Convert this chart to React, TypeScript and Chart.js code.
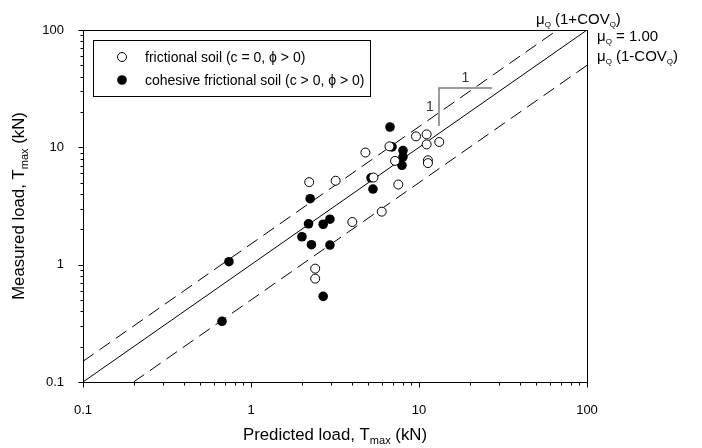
import React, { useEffect, useRef } from "react";
import { Chart, registerables } from "chart.js";

Chart.register(...registerables);

// ---- data ----
const frictionalX = [11.1, 9.6, 11.1, 13.2, 6.67, 4.8, 7.2, 11.3, 11.3, 5.36, 7.53, 2.22, 3.19, 6.0, 4.01, 2.41, 2.41];
const frictionalY = [12.9, 12.4, 10.6, 11.1, 10.2, 9.03, 7.67, 7.75, 7.34, 5.53, 4.82, 5.05, 5.19, 2.83, 2.31, 0.925, 0.76];
const cohesiveX = [6.72, 8.03, 8.03, 7.92, 6.91, 5.18, 5.32, 2.25, 2.2, 2.69, 2.95, 2.01, 2.29, 2.95, 0.739, 0.672, 2.69];
const cohesiveY = [14.9, 9.39, 8.3, 7.03, 10.1, 5.5, 4.41, 3.65, 2.23, 2.21, 2.44, 1.73, 1.48, 1.47, 1.06, 0.329, 0.537];

const bias = 1.0; // mu_Q
const cov = 0.5; // COV_Q
const axisMin = 0.1;
const axisMax = 100;

const slopeX = [27.2, 13.15, 13.15];
const slopeY = [32.1, 32.1, 15.2];

const tickValues = [
  0.1, 0.2, 0.3, 0.4, 0.5, 0.6, 0.7, 0.8, 0.9,
  1, 2, 3, 4, 5, 6, 7, 8, 9,
  10, 20, 30, 40, 50, 60, 70, 80, 90, 100,
];

const legendLabels = ["frictional soil (c = 0, \u03d5 > 0)", "cohesive frictional soil (c > 0, \u03d5 > 0)"];

const FAMILY = "Arial, 'Liberation Sans', sans-serif";

type Part = { t: string; sub?: boolean };

function drawRich(ctx: CanvasRenderingContext2D, parts: Part[], x: number, y: number, align: string, size: number, subSize: number, subDrop: number) {
  const widths = parts.map((p) => {
    ctx.font = `${p.sub ? subSize : size}px ${FAMILY}`;
    return ctx.measureText(p.t).width;
  });
  const total = widths.reduce((a, b) => a + b, 0);
  let cx = align === "center" ? x - total / 2 : align === "right" ? x - total : x;
  ctx.textAlign = "left";
  ctx.textBaseline = "alphabetic";
  parts.forEach((p, i) => {
    ctx.font = `${p.sub ? subSize : size}px ${FAMILY}`;
    ctx.fillText(p.t, cx, p.sub ? y + subDrop : y);
    cx += widths[i];
  });
}

const isMajor = (v: number) => {
  const lg = Math.log10(v);
  return Math.abs(lg - Math.round(lg)) < 1e-6;
};

const decorPlugin = {
  id: "decor",
  afterDraw(chart: any) {
    const { ctx, chartArea, scales } = chart;
    const { left, right, top, bottom } = chartArea;
    const xs = scales.x;
    const ys = scales.y;
    ctx.save();
    ctx.strokeStyle = "#000";
    ctx.lineWidth = 1;
    // frame
    ctx.strokeRect(Math.round(left) + 0.5, Math.round(top) + 0.5, Math.round(right - left), Math.round(bottom - top));
    // ticks
    ctx.beginPath();
    tickValues.forEach((v) => {
      const len = isMajor(v) ? 5 : 3;
      const px = Math.round(xs.getPixelForValue(v)) + 0.5;
      ctx.moveTo(px, Math.round(bottom) + 0.5);
      ctx.lineTo(px, Math.round(bottom) + 0.5 + len);
      const py = Math.round(ys.getPixelForValue(v)) + 0.5;
      ctx.moveTo(Math.round(left) + 0.5, py);
      ctx.lineTo(Math.round(left) + 0.5 - len, py);
    });
    ctx.stroke();

    ctx.fillStyle = "#000";
    // x title
    drawRich(ctx, [{ t: "Predicted load, T" }, { t: "max", sub: true }, { t: " (kN)" }], (left + right) / 2, 440, "center", 16.8, 11, 4);
    // y title
    ctx.save();
    ctx.translate(24, (top + bottom) / 2);
    ctx.rotate(-Math.PI / 2);
    drawRich(ctx, [{ t: "Measured load, T" }, { t: "max", sub: true }, { t: " (kN)" }], 0, 0, "center", 16.8, 11, 4);
    ctx.restore();

    // legend
    ctx.fillStyle = "#fff";
    ctx.fillRect(93.5, 40.5, 277, 56);
    ctx.strokeRect(93.5, 40.5, 277, 56);
    ctx.beginPath();
    ctx.arc(122, 57, 4.5, 0, Math.PI * 2);
    ctx.fillStyle = "#fff";
    ctx.fill();
    ctx.stroke();
    ctx.beginPath();
    ctx.arc(122, 80, 4.8, 0, Math.PI * 2);
    ctx.fillStyle = "#000";
    ctx.fill();
    ctx.font = `14px ${FAMILY}`;
    ctx.textAlign = "left";
    ctx.textBaseline = "middle";
    ctx.fillText(legendLabels[0], 145, 58);
    ctx.fillText(legendLabels[1], 145, 81);

    // right labels
    ctx.fillStyle = "#000";
    drawRich(ctx, [{ t: "\u03bc" }, { t: "Q", sub: true }, { t: " (1+COV" }, { t: "Q", sub: true }, { t: ")" }], 536, 24, "left", 15, 8, 3);
    drawRich(ctx, [{ t: "\u03bc" }, { t: "Q", sub: true }, { t: " = 1.00" }], 597, 41, "left", 15, 8, 3);
    drawRich(ctx, [{ t: "\u03bc" }, { t: "Q", sub: true }, { t: " (1-COV" }, { t: "Q", sub: true }, { t: ")" }], 597, 61, "left", 15, 8, 3);

    // slope labels
    ctx.fillStyle = "#333";
    ctx.font = `14px ${FAMILY}`;
    ctx.textAlign = "center";
    ctx.textBaseline = "middle";
    ctx.fillText("1", xs.getPixelForValue((slopeX[0] * slopeX[1]) ** 0.5), ys.getPixelForValue(slopeY[0]) - 10);
    ctx.fillText("1", xs.getPixelForValue(slopeX[1]) - 9, ys.getPixelForValue((slopeY[1] * slopeY[2]) ** 0.5));
    ctx.restore();
  },
};

export default function App() {
  const ref = useRef<HTMLCanvasElement | null>(null);
  useEffect(() => {
    if (!ref.current) return;
    const lineFrom = (factor: number) => {
      const x0 = Math.max(axisMin, axisMin / factor);
      const x1 = Math.min(axisMax, axisMax / factor);
      return [
        { x: x0, y: bias * factor * x0 },
        { x: x1, y: bias * factor * x1 },
      ];
    };
    const chart = new Chart(ref.current, {
      type: "scatter",
      data: {
        datasets: [
          {
            label: "frictional",
            data: frictionalX.map((x, i) => ({ x, y: frictionalY[i] })),
            backgroundColor: "#fff",
            borderColor: "#000",
            borderWidth: 1,
            pointRadius: 4.5,
            order: 0,
          },
          {
            label: "cohesive",
            data: cohesiveX.map((x, i) => ({ x, y: cohesiveY[i] })),
            backgroundColor: "#000",
            borderColor: "#000",
            borderWidth: 0,
            pointRadius: 4.8,
            order: 1,
          },
          {
            label: "mean",
            data: lineFrom(1),
            showLine: true,
            borderColor: "#000",
            borderWidth: 1,
            pointRadius: 0,
            order: 2,
          },
          {
            label: "upper",
            data: lineFrom(1 + cov),
            showLine: true,
            borderColor: "#000",
            borderWidth: 1,
            borderDash: [13, 7],
            pointRadius: 0,
            order: 2,
          },
          {
            label: "lower",
            data: lineFrom(1 - cov),
            showLine: true,
            borderColor: "#000",
            borderWidth: 1,
            borderDash: [13, 7],
            pointRadius: 0,
            order: 2,
          },
          {
            label: "slope",
            data: slopeX.map((x, i) => ({ x, y: slopeY[i] })),
            showLine: true,
            borderColor: "#7a7a7a",
            borderWidth: 1.5,
            pointRadius: 0,
            order: 3,
          },
        ],
      },
      options: {
        responsive: false,
        animation: false,
        layout: { padding: { top: 30, right: 115, left: 0, bottom: 0 } },
        plugins: { legend: { display: false }, tooltip: { enabled: false } },
        scales: {
          x: {
            type: "logarithmic",
            min: axisMin,
            max: axisMax,
            grid: { display: false },
            border: { display: false },
            afterBuildTicks: (s: any) => {
              s.ticks = tickValues.map((v) => ({ value: v }));
            },
            afterFit: (s: any) => {
              s.height = 66;
            },
            ticks: {
              autoSkip: false,
              maxRotation: 0,
              padding: 13,
              color: "#000",
              font: { family: FAMILY, size: 13 },
              callback: (v: any) => (isMajor(Number(v)) ? String(Number(v)) : ""),
            },
          },
          y: {
            type: "logarithmic",
            min: axisMin,
            max: axisMax,
            grid: { display: false },
            border: { display: false },
            afterBuildTicks: (s: any) => {
              s.ticks = tickValues.map((v) => ({ value: v }));
            },
            afterFit: (s: any) => {
              s.width = 83;
            },
            ticks: {
              autoSkip: false,
              padding: 11,
              color: "#000",
              font: { family: FAMILY, size: 13 },
              callback: (v: any) => (isMajor(Number(v)) ? String(Number(v)) : ""),
            },
          },
        },
      },
      plugins: [decorPlugin],
    } as any);
    return () => chart.destroy();
  }, []);
  return (
    <div style={{ position: "fixed", left: 0, top: 0, width: 702, height: 448, background: "#fff" }}>
      <canvas ref={ref} width={702} height={448} style={{ display: "block" }} />
    </div>
  );
}
